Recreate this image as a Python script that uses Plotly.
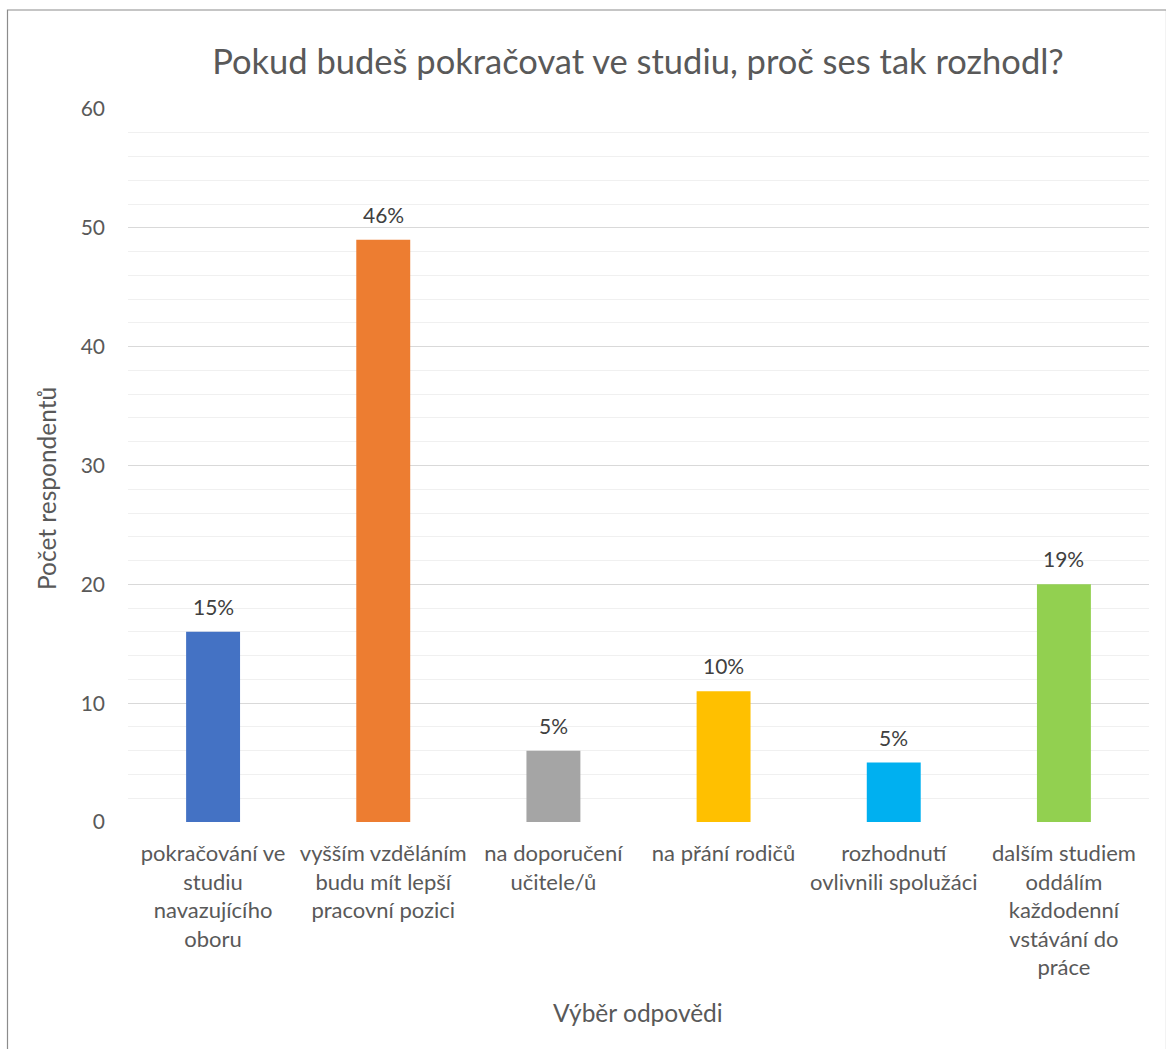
import plotly.graph_objects as go

# Survey answers, respondent counts and the share shown above each bar
categories = [
    "pokračování ve<br>studiu<br>navazujícího<br>oboru",
    "vyšším vzděláním<br>budu mít lepší<br>pracovní pozici",
    "na doporučení<br>učitele/ů",
    "na přání rodičů",
    "rozhodnutí<br>ovlivnili spolužáci",
    "dalším studiem<br>oddálím<br>každodenní<br>vstávání do<br>práce",
]
counts = [16, 49, 6, 11, 5, 20]
share_labels = ["15%", "46%", "5%", "10%", "5%", "19%"]
bar_colors = ["#4472C4", "#ED7D31", "#A5A5A5", "#FFC000", "#00B0F0", "#92D050"]
y_ticks = [0, 10, 20, 30, 40, 50, 60]

FONT = "Lato"
TXT = "#595959"

W, H = 1166, 1049
L, R, T, B = 128, 17, 109, 227
pw, ph = W - L - R, H - T - B

xs = list(range(len(categories)))

fig = go.Figure()
fig.add_trace(go.Bar(
    x=xs, y=counts,
    marker=dict(color=bar_colors, line=dict(width=0)),
    width=0.317,
    showlegend=False,
    hoverinfo="skip",
))

# share labels above bars
for x, v, lab in zip(xs, counts, share_labels):
    fig.add_annotation(
        x=x, y=v, text=lab, showarrow=False,
        xanchor="center", yanchor="bottom", yshift=11,
        font=dict(family=FONT, size=21, color="#404040"),
    )

# axis titles
fig.add_annotation(
    xref="paper", yref="paper",
    x=(638 - L) / pw, y=(822 - 1012) / ph,
    text="Výběr odpovědi", showarrow=False,
    xanchor="center", yanchor="middle",
    font=dict(family=FONT, size=24.5, color=TXT),
)
fig.add_annotation(
    xref="paper", yref="paper",
    x=(46 - L) / pw, y=(822 - 489) / ph,
    text="Počet respondentů", showarrow=False, textangle=-90,
    xanchor="center", yanchor="middle",
    font=dict(family=FONT, size=24.5, color=TXT),
)

# outer chart frame
fig.add_shape(
    type="rect", xref="paper", yref="paper",
    x0=(7.5 - L) / pw, x1=(1166.5 - L) / pw,
    y0=(822 - 1060) / ph, y1=(822 - 10) / ph,
    line=dict(color="#8C8C8C", width=1.2), fillcolor="rgba(0,0,0,0)",
    layer="below",
)

fig.update_layout(
    width=W, height=H,
    margin=dict(l=L, r=R, t=T, b=B),
    paper_bgcolor="white", plot_bgcolor="white",
    title=dict(
        text="Pokud budeš pokračovat ve studiu, proč ses tak rozhodl?",
        x=(638 - 0) / W, xanchor="center",
        y=1 - 62 / H, yanchor="middle",
        font=dict(family=FONT, size=34.5, color=TXT),
    ),
    bargap=0.683,
    xaxis=dict(
        tickmode="array", tickvals=xs, ticktext=categories,
        range=[-0.5, len(categories) - 0.5],
        showgrid=False, zeroline=False, showline=False,
        ticks="", tickfont=dict(family=FONT, size=22, color=TXT),
        ticklabelstandoff=16,
    ),
    yaxis=dict(
        range=[0, 60], tickmode="array", tickvals=y_ticks,
        showgrid=True, gridcolor="#D9D9D9", gridwidth=1.3,
        minor=dict(dtick=2, showgrid=True, gridcolor="#F0F0F0", gridwidth=1.3),
        zeroline=False, showline=False, ticks="",
        tickfont=dict(family=FONT, size=21, color=TXT),
        ticklabelstandoff=22,
    ),
)

fig.write_html("out.html")
